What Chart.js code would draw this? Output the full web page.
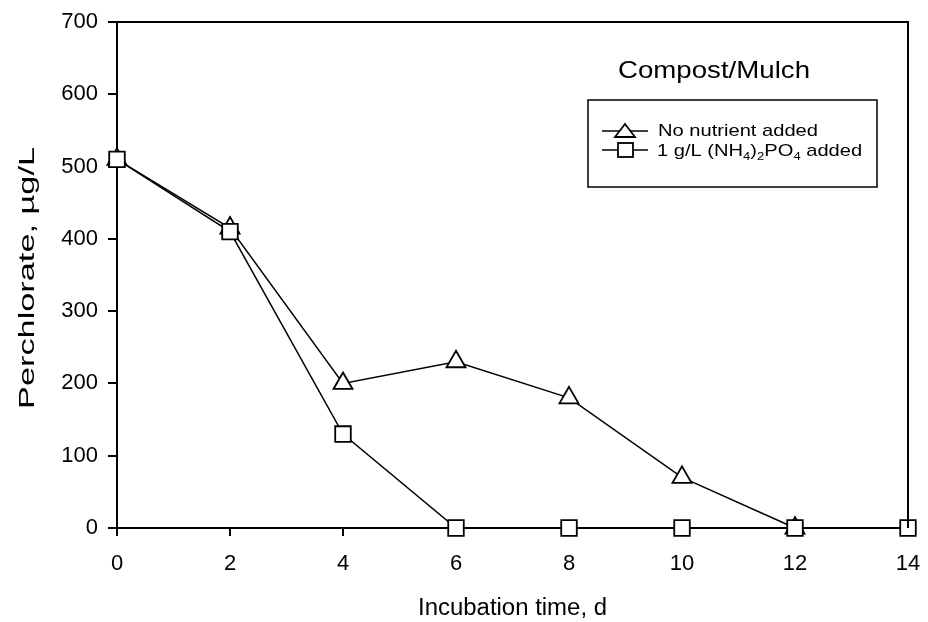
<!DOCTYPE html>
<html>
<head>
<meta charset="utf-8">
<script src="https://cdn.jsdelivr.net/npm/chart.js@4/dist/chart.umd.min.js"></script>
<style>
  html, body { margin: 0; padding: 0; background: #fff; }
  #wrap { width: 928px; height: 622px; }
</style>
</head>
<body>
<div id="wrap"><canvas id="chart" width="928" height="622"></canvas></div>
<script>
// Days of incubation (x axis)
const days = [0, 2, 4, 6, 8, 10, 12, 14];
// Perchlorate, ug/L
const noNutrient = [510, 415, 200, 230, 180, 70, 0, null];
const withPhosphate = [510, 410, 130, 0, 0, 0, 0, 0];
const yTicks = [0, 100, 200, 300, 400, 500, 600, 700];
const xTicks = [0, 2, 4, 6, 8, 10, 12, 14];

const FONT = '"Liberation Sans", Arial, sans-serif';

// draw text squeezed/stretched along its own direction to a given length
function stretchedText(ctx, text, x, y, size, length, angle) {
    ctx.save();
    ctx.font = size + 'px ' + FONT;
    const w = ctx.measureText(text).width;
    ctx.translate(x, y);
    ctx.rotate(angle || 0);
    ctx.scale(length / w, 1);
    ctx.textAlign = 'center';
    ctx.textBaseline = 'alphabetic';
    ctx.fillText(text, 0, 0);
    ctx.restore();
}

// Frame, titles and legend drawn by hand (legend needs subscripts)
const framePlugin = {
    id: 'frame',
    afterDraw(chart) {
        const { ctx, chartArea: a } = chart;
        ctx.save();
        ctx.strokeStyle = '#000';
        ctx.fillStyle = '#000';
        ctx.lineWidth = 2;
        ctx.beginPath();
        ctx.moveTo(a.left, a.top);
        ctx.lineTo(a.right, a.top);
        ctx.lineTo(a.right, a.bottom);
        ctx.stroke();

        // axis titles
        stretchedText(ctx, 'Incubation time, d', (a.left + a.right) / 2, 615, 23, 189, 0);
        stretchedText(ctx, 'Perchlorate, µg/L', 34, 278, 22, 262, -Math.PI / 2);

        // panel title
        stretchedText(ctx, 'Compost/Mulch', 714, 78, 24, 192, 0);

        // legend box
        ctx.lineWidth = 1.5;
        ctx.fillStyle = '#fff';
        ctx.fillRect(588, 100, 289, 87);
        ctx.strokeRect(588, 100, 289, 87);

        const drawLine = (y) => {
            ctx.beginPath();
            ctx.moveTo(602, y);
            ctx.lineTo(648, y);
            ctx.lineWidth = 1.5;
            ctx.stroke();
        };
        // triangle entry
        drawLine(131);
        ctx.lineWidth = 1.8;
        ctx.beginPath();
        ctx.moveTo(625, 124);
        ctx.lineTo(635, 137);
        ctx.lineTo(615, 137);
        ctx.closePath();
        ctx.fillStyle = '#fff';
        ctx.fill();
        ctx.stroke();
        // square entry
        drawLine(150);
        ctx.lineWidth = 1.8;
        ctx.fillRect(618, 143, 15, 14);
        ctx.strokeRect(618, 143, 15, 14);

        ctx.fillStyle = '#000';
        ctx.textAlign = 'left';
        ctx.textBaseline = 'alphabetic';

        // line 1, stretched horizontally like the reference
        ctx.save();
        ctx.font = '17px ' + FONT;
        const w1 = ctx.measureText('No nutrient added').width;
        const sx = 160 / w1;
        ctx.translate(658, 136);
        ctx.scale(sx, 1);
        ctx.fillText('No nutrient added', 0, 0);
        ctx.restore();

        // line 2: 1 g/L (NH4)2PO4 added
        ctx.save();
        ctx.translate(657, 156);
        ctx.scale(sx, 1);
        let x = 0;
        const parts = [
            ['1 g/L (NH', false], ['4', true], [')', false], ['2', true],
            ['PO', false], ['4', true], [' added', false]
        ];
        parts.forEach(([t, sub]) => {
            ctx.font = (sub ? '11px ' : '17px ') + FONT;
            ctx.fillText(t, x, sub ? 4 : 0);
            x += ctx.measureText(t).width;
        });
        ctx.restore();
        ctx.restore();
    }
};

const ctx = document.getElementById('chart').getContext('2d');
new Chart(ctx, {
    type: 'line',
    data: {
        datasets: [
            {
                label: 'No nutrient added',
                data: days.map((d, i) => ({ x: d, y: noNutrient[i] })),
                order: 1,
                borderColor: '#000',
                borderWidth: 1.5,
                pointStyle: 'triangle',
                pointRadius: 11,
                pointBorderWidth: 1.8,
                pointBackgroundColor: '#fff',
                pointBorderColor: '#000',
                tension: 0,
                clip: false
            },
            {
                label: '1 g/L (NH4)2PO4 added',
                data: days.map((d, i) => ({ x: d, y: withPhosphate[i] })),
                order: 0,  // squares drawn on top, as in the original
                borderColor: '#000',
                borderWidth: 1.5,
                pointStyle: 'rect',
                pointRadius: 11,
                pointBorderWidth: 1.8,
                pointBackgroundColor: '#fff',
                pointBorderColor: '#000',
                tension: 0,
                clip: false
            }
        ]
    },
    options: {
        responsive: false,
        animation: false,
        layout: { padding: { top: 22, right: 20, left: 0, bottom: 0 } },
        plugins: {
            legend: { display: false },
            tooltip: { enabled: false }
        },
        scales: {
            x: {
                type: 'linear',
                min: 0,
                max: 14,
                afterBuildTicks: (s) => { s.ticks = xTicks.map(v => ({ value: v })); },
                afterFit: (s) => { s.height = 94; s.paddingLeft = 0; s.paddingRight = 0; },
                grid: { drawOnChartArea: false, tickLength: 8, color: '#000', lineWidth: 2 },
                border: { color: '#000', width: 2 },
                ticks: { color: '#000', font: { family: FONT, size: 22 }, padding: 15 }
            },
            y: {
                min: 0,
                max: 700,
                afterBuildTicks: (s) => { s.ticks = yTicks.map(v => ({ value: v })); },
                afterFit: (s) => { s.width = 117; s.paddingTop = 0; s.paddingBottom = 0; },
                grid: { drawOnChartArea: false, tickLength: 9, color: '#000', lineWidth: 2 },
                border: { color: '#000', width: 2 },
                ticks: { color: '#000', font: { family: FONT, size: 22 }, padding: 10 }
            }
        }
    },
    plugins: [framePlugin]
});
</script>
</body>
</html>
